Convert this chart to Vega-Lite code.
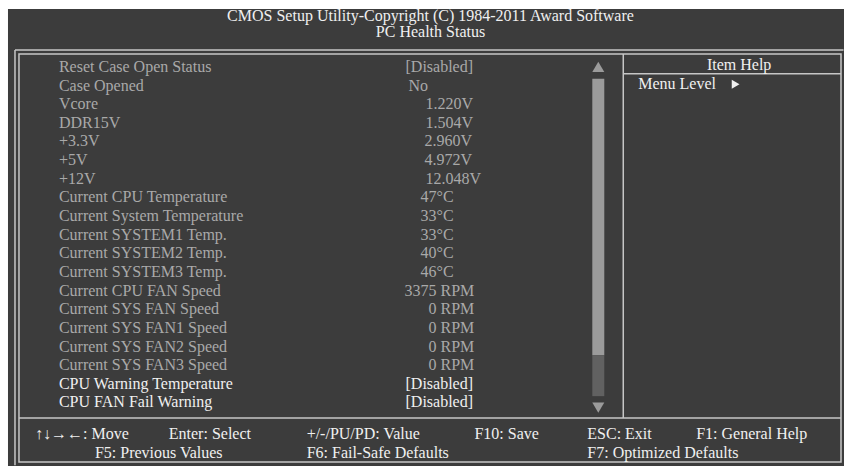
{
  "$schema": "https://vega.github.io/schema/vega-lite/v6.json",
  "width": 845,
  "height": 467,
  "padding": 0,
  "autosize": {"type": "fit", "contains": "padding"},
  "background": "#ffffff",
  "config": {"view": {"stroke": null}, "axis": {"disable": true}},
  "resolve": {"scale": {"color": "independent", "shape": "independent"}},
  "datasets": {
    "panel": [{"c1": 0.757, "c2": 80, "l1": 0.392, "l2": 24.91}],
    "frames": [
      {"c1": 1.799, "c2": 79.716, "l1": 2.801, "l2": 24.696}
    ],
    "dividers": [
      {"c1": 1.42, "c2": 79.95, "l1": 2.587, "l2": 2.587},
      {"c1": 1.42, "c2": 1.42, "l1": 2.587, "l2": 24.87},
      {"c1": 1.799, "c2": 79.716, "l1": 22.34, "l2": 22.34},
      {"c1": 59.077, "c2": 59.077, "l1": 2.801, "l2": 22.34},
      {"c1": 59.077, "c2": 79.716, "l1": 3.871, "l2": 3.871}
    ],
    "scroll": [
      {"part": "thumb", "c1": 56.142, "c2": 57.278, "l1": 4.139, "l2": 18.968},
      {"part": "track", "c1": 56.142, "c2": 57.278, "l1": 18.968, "l2": 21.163}
    ],
    "arrows": [
      {"dir": "up", "c": 56.71, "l": 3.497},
      {"dir": "down", "c": 56.71, "l": 21.778}
    ],
    "menu": [{"dir": "right", "c": 69.728, "l": 4.434}],
    "items": [
      {"label": "Reset Case Open Status", "value": "[Disabled]", "line": 3.5, "vcol": 38.438, "state": "info"},
      {"label": "Case Opened", "value": "No", "line": 4.5, "vcol": 38.722, "state": "info"},
      {"label": "Vcore", "value": "1.220V", "line": 5.5, "vcol": 40.331, "state": "info"},
      {"label": "DDR15V", "value": "1.504V", "line": 6.5, "vcol": 40.331, "state": "info"},
      {"label": "+3.3V", "value": "2.960V", "line": 7.5, "vcol": 40.237, "state": "info"},
      {"label": "+5V", "value": "4.972V", "line": 8.5, "vcol": 40.237, "state": "info"},
      {"label": "+12V", "value": "12.048V", "line": 9.5, "vcol": 40.331, "state": "info"},
      {"label": "Current CPU Temperature", "value": "47°C", "line": 10.5, "vcol": 39.858, "state": "info"},
      {"label": "Current System Temperature", "value": "33°C", "line": 11.5, "vcol": 39.858, "state": "info"},
      {"label": "Current SYSTEM1 Temp.", "value": "33°C", "line": 12.5, "vcol": 39.858, "state": "info"},
      {"label": "Current SYSTEM2 Temp.", "value": "40°C", "line": 13.5, "vcol": 39.858, "state": "info"},
      {"label": "Current SYSTEM3 Temp.", "value": "46°C", "line": 14.5, "vcol": 39.858, "state": "info"},
      {"label": "Current CPU FAN Speed", "value": "3375 RPM", "line": 15.5, "vcol": 38.343, "state": "info"},
      {"label": "Current SYS FAN Speed", "value": "0 RPM", "line": 16.5, "vcol": 40.615, "state": "info"},
      {"label": "Current SYS FAN1 Speed", "value": "0 RPM", "line": 17.5, "vcol": 40.615, "state": "info"},
      {"label": "Current SYS FAN2 Speed", "value": "0 RPM", "line": 18.5, "vcol": 40.615, "state": "info"},
      {"label": "Current SYS FAN3 Speed", "value": "0 RPM", "line": 19.5, "vcol": 40.615, "state": "info"},
      {"label": "CPU Warning Temperature", "value": "[Disabled]", "line": 20.5, "vcol": 38.438, "state": "setting"},
      {"label": "CPU FAN Fail Warning", "value": "[Disabled]", "line": 21.5, "vcol": 38.438, "state": "setting"}
    ],
    "centered": [
      {"text": "CMOS Setup Utility-Copyright (C) 1984-2011 Award Software", "c": 40.805, "l": 0.756},
      {"text": "PC Health Status", "c": 40.805, "l": 1.612},
      {"text": "Item Help", "c": 70.059, "l": 3.39}
    ],
    "lefttext": [
      {"text": "Menu Level", "c": 60.497, "l": 4.407},
      {"text": "↑↓→←: Move", "c": 3.314, "l": 23.17},
      {"text": "Enter: Select", "c": 16.0, "l": 23.17},
      {"text": "+/-/PU/PD: Value", "c": 29.065, "l": 23.17},
      {"text": "F10: Save", "c": 44.97, "l": 23.17},
      {"text": "ESC: Exit", "c": 55.669, "l": 23.17},
      {"text": "F1: General Help", "c": 65.988, "l": 23.17},
      {"text": "F5: Previous Values", "c": 8.994, "l": 24.23},
      {"text": "F6: Fail-Safe Defaults", "c": 29.065, "l": 24.23},
      {"text": "F7: Optimized Defaults", "c": 55.669, "l": 24.23}
    ]
  },
  "layer": [
    {
      "data": {"name": "panel"},
      "mark": {"type": "rect", "color": "#3c3c3c"},
      "encoding": {
        "x": {"field": "c1", "type": "quantitative", "scale": {"domain": [0, 80], "nice": false, "zero": false}},
        "x2": {"field": "c2"},
        "y": {"field": "l1", "type": "quantitative", "scale": {"domain": [-0.09, 24.91], "nice": false, "zero": false, "reverse": true}},
        "y2": {"field": "l2"}
      }
    },
    {
      "data": {"name": "frames"},
      "mark": {"type": "rect", "filled": false, "stroke": "#c6c6c6", "strokeWidth": 1.5},
      "encoding": {
        "x": {"field": "c1", "type": "quantitative"},
        "x2": {"field": "c2"},
        "y": {"field": "l1", "type": "quantitative"},
        "y2": {"field": "l2"}
      }
    },
    {
      "data": {"name": "dividers"},
      "mark": {"type": "rule", "stroke": "#c6c6c6", "strokeWidth": 1.5},
      "encoding": {
        "x": {"field": "c1", "type": "quantitative"},
        "x2": {"field": "c2"},
        "y": {"field": "l1", "type": "quantitative"},
        "y2": {"field": "l2"}
      }
    },
    {
      "data": {"name": "scroll"},
      "mark": {"type": "rect"},
      "encoding": {
        "x": {"field": "c1", "type": "quantitative"},
        "x2": {"field": "c2"},
        "y": {"field": "l1", "type": "quantitative"},
        "y2": {"field": "l2"},
        "color": {"field": "part", "type": "nominal", "scale": {"domain": ["thumb", "track"], "range": ["#9b9b9b", "#616161"]}, "legend": null}
      }
    },
    {
      "data": {"name": "arrows"},
      "mark": {"type": "point", "filled": true, "size": 144, "opacity": 1, "color": "#9b9b9b"},
      "encoding": {
        "x": {"field": "c", "type": "quantitative"},
        "y": {"field": "l", "type": "quantitative"},
        "shape": {"field": "dir", "type": "nominal", "scale": {"domain": ["up", "down"], "range": ["triangle-up", "triangle-down"]}, "legend": null}
      }
    },
    {
      "data": {"name": "menu"},
      "mark": {"type": "point", "filled": true, "size": 80, "opacity": 1, "color": "#f0f0f0"},
      "encoding": {
        "x": {"field": "c", "type": "quantitative"},
        "y": {"field": "l", "type": "quantitative"},
        "shape": {"field": "dir", "type": "nominal", "scale": {"domain": ["right"], "range": ["triangle-right"]}, "legend": null}
      }
    },
    {
      "data": {"name": "items"},
      "mark": {"type": "text", "align": "left", "baseline": "middle", "font": "Liberation Serif", "fontSize": 16},
      "encoding": {
        "x": {"datum": 5.586, "type": "quantitative"},
        "y": {"field": "line", "type": "quantitative"},
        "text": {"field": "label"},
        "color": {"field": "state", "type": "nominal", "scale": {"domain": ["info", "setting"], "range": ["#a9a9a9", "#f0f0f0"]}, "legend": null}
      }
    },
    {
      "data": {"name": "items"},
      "mark": {"type": "text", "align": "left", "baseline": "middle", "font": "Liberation Serif", "fontSize": 16},
      "encoding": {
        "x": {"field": "vcol", "type": "quantitative"},
        "y": {"field": "line", "type": "quantitative"},
        "text": {"field": "value"},
        "color": {"field": "state", "type": "nominal", "scale": {"domain": ["info", "setting"], "range": ["#a9a9a9", "#f0f0f0"]}, "legend": null}
      }
    },
    {
      "data": {"name": "centered"},
      "mark": {"type": "text", "align": "center", "baseline": "middle", "font": "Liberation Serif", "fontSize": 16, "color": "#f0f0f0"},
      "encoding": {
        "x": {"field": "c", "type": "quantitative"},
        "y": {"field": "l", "type": "quantitative"},
        "text": {"field": "text"}
      }
    },
    {
      "data": {"name": "lefttext"},
      "mark": {"type": "text", "align": "left", "baseline": "middle", "font": "Liberation Serif", "fontSize": 16, "color": "#f0f0f0"},
      "encoding": {
        "x": {"field": "c", "type": "quantitative"},
        "y": {"field": "l", "type": "quantitative"},
        "text": {"field": "text"}
      }
    }
  ]
}
